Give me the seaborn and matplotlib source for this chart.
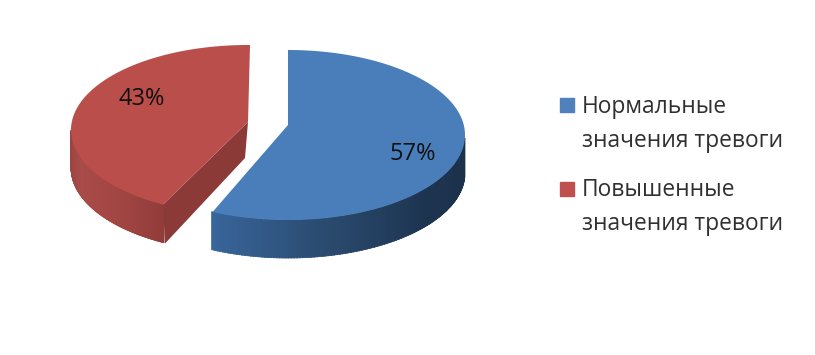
import numpy as np
import matplotlib
matplotlib.use("Agg")
import matplotlib.pyplot as plt
from matplotlib.patches import Patch, Rectangle
from matplotlib.legend_handler import HandlerPatch
import seaborn as sns

categories = ["Нормальные\nзначения тревоги", "Повышенные\nзначения тревоги"]
values = [57, 43]
top_colors = ["#4a7ebb", "#b94e4a"]
legend_colors = ["#4f81bd", "#c0504d"]

sns.set_theme(style="white")
plt.rcParams["font.family"] = ["Open Sans", "DejaVu Sans"]

fig = plt.figure(figsize=(8.15, 3.55), dpi=100)
ax = fig.add_axes([0, 0, 1, 1])
ax.set_xlim(0, 815)
ax.set_ylim(355, 0)
ax.axis("off")

A, B, DEPTH = 177, 85, 38
share = np.array(values) / sum(values) * 360
blue_end = share[0]


def rim(cx, cy, t0, t1, n=200):
    t = np.radians(np.linspace(t0, t1, n))
    return cx + A * np.sin(t), cy - B * np.cos(t)


def side(cx, cy, t0, t1, palette, n=120):
    edges = np.linspace(t0, t1, n + 1)
    cols = sns.blend_palette(palette, n)
    step = 0.4 if t1 > t0 else -0.4
    for i in range(n):
        x, y = rim(cx, cy, edges[i], edges[i + 1] + step, 6)
        ax.fill(np.r_[x, x[::-1]], np.r_[y, y[::-1] + DEPTH], color=cols[i], lw=0.5, zorder=2)


# blue slice
cx, cy, ax0, ay0 = 288, 135, 288, 125
side(cx, cy, 92, blue_end, ["#1c3149", "#1d3450", "#2a4a6e", "#38659a"])
x, y = rim(cx, cy, 0, blue_end)
ax.fill(np.r_[ax0, x], np.r_[ay0, y], color=top_colors[0], lw=0, zorder=3)

# red slice
cx2, cy2, ax2, ay2 = 248, 130, 248, 122
red_start = 360 - share[1] + 3.5
side(cx2, cy2, 270, red_start, ["#984240", "#a94c49", "#a44744", "#933d3b"])
ex, ey = rim(cx2, cy2, red_start, red_start, 1)
ax.fill([ax2, ex[0], ex[0] + 2, ax2 - 3], [ay2, ey[0], ey[0] + DEPTH + 1, ay2 + DEPTH - 2],
        color="#8c3a38", lw=0, zorder=2.5)
x, y = rim(cx2, cy2, red_start, 360)
ax.fill(np.r_[ax2, x, ax2 + 2], np.r_[ay2, y, y[-1]], color=top_colors[1], lw=0, zorder=3)

for v, px, py in zip(values, [413, 142], [154, 99]):
    ax.text(px, py, f"{v}%", ha="center", va="center", fontsize=17, color="#101010", zorder=5)


def raised(legend, orig_handle, xdescent, ydescent, width, height, fontsize):
    return Rectangle((6 * 0.72 - xdescent, 15 - ydescent), 14 * 0.72, 14 * 0.72)


handles = [Patch(color=c, label=l) for c, l in zip(legend_colors, categories)]
leg = ax.legend(handles=handles, loc="upper left", bbox_to_anchor=(554 / 815, 1 - 95 / 355),
                frameon=False, fontsize=16.4, labelspacing=1.12, handlelength=1.0,
                handletextpad=0.23, borderpad=0, borderaxespad=0,
                handler_map={Patch: HandlerPatch(patch_func=raised)})
for t in leg.get_texts():
    t.set_linespacing(1.55)
    t.set_color("#303030")

fig.savefig("out.png", dpi=100, facecolor="white")
